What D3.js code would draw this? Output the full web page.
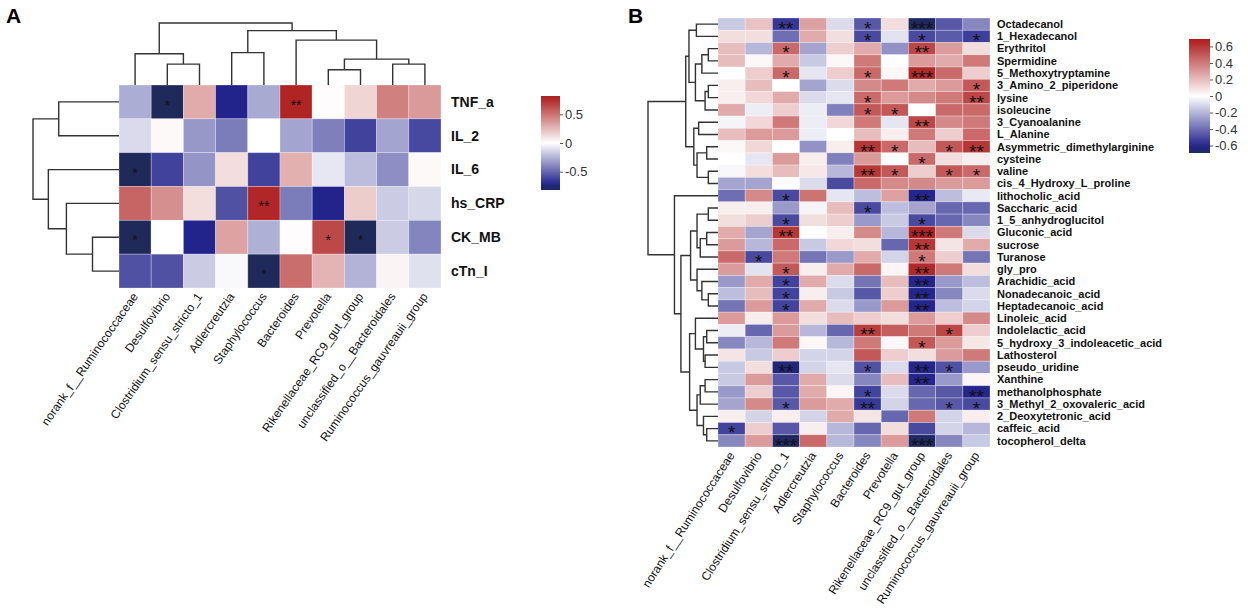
<!DOCTYPE html>
<html>
<head>
<meta charset="utf-8">
<script src="https://cdn.jsdelivr.net/npm/d3@7"></script>
<style>
  body { margin: 0; background: #fff; }
  text { font-family: "Liberation Sans", Arial, sans-serif; }
</style>
</head>
<body>
<svg id="chart" width="1248" height="612"></svg>
<script>
// ---- data ----
const genera = ["norank_f__Ruminococcaceae", "Desulfovibrio", "Clostridium_sensu_stricto_1", "Adlercreutzia",
  "Staphylococcus", "Bacteroides", "Prevotella", "Rikenellaceae_RC9_gut_group",
  "unclassified_o__Bacteroidales", "Ruminococcus_gauvreauii_group"];

const markersA = ["TNF_a", "IL_2", "IL_6", "hs_CRP", "CK_MB", "cTn_I"];
const valuesA = [
  [-0.27, -0.82, 0.30, -0.72, -0.28, 0.78, 0.01, 0.15, 0.45, 0.36],
  [-0.12, 0.02, -0.34, -0.43, 0.00, -0.30, -0.42, -0.62, -0.30, -0.60],
  [-0.82, -0.62, -0.35, 0.12, -0.62, 0.28, -0.08, -0.22, -0.37, 0.02],
  [0.55, 0.40, 0.12, -0.57, 0.77, -0.43, -0.72, 0.18, -0.17, -0.13],
  [-0.82, 0.00, -0.72, 0.33, -0.26, 0.01, 0.65, -0.82, -0.17, -0.40],
  [-0.57, -0.57, -0.17, -0.02, -0.82, 0.52, 0.27, -0.25, 0.04, -0.10]
];
// number of significance stars per cell
const starsA = ["0100020000", "0000000000", "1000000000", "0000200000", "1000001100", "0000100000"];

const metabolites = ["Octadecanol", "1_Hexadecanol", "Erythritol", "Spermidine", "5_Methoxytryptamine",
  "3_Amino_2_piperidone", "lysine", "isoleucine", "3_Cyanoalanine", "L_Alanine",
  "Asymmetric_dimethylarginine", "cysteine", "valine", "cis_4_Hydroxy_L_proline", "lithocholic_acid",
  "Saccharic_acid", "1_5_anhydroglucitol", "Gluconic_acid", "sucrose", "Turanose", "gly_pro",
  "Arachidic_acid", "Nonadecanoic_acid", "Heptadecanoic_acid", "Linoleic_acid", "Indolelactic_acid",
  "5_hydroxy_3_indoleacetic_acid", "Lathosterol", "pseudo_uridine", "Xanthine", "methanolphosphate",
  "3_Methyl_2_oxovaleric_acid", "2_Deoxytetronic_acid", "caffeic_acid", "tocopherol_delta"];
const valuesB = [
  [-0.15, 0.18, -0.55, 0.28, -0.10, -0.46, 0.10, -0.68, -0.46, -0.33],
  [0.10, 0.10, -0.40, 0.25, 0.10, -0.50, -0.08, -0.50, -0.45, -0.53],
  [0.20, -0.20, 0.45, -0.25, 0.15, 0.25, -0.30, 0.55, 0.30, 0.10],
  [0.20, 0.02, 0.25, -0.15, 0.02, 0.40, 0.00, 0.30, 0.25, 0.40],
  [0.00, 0.15, 0.45, -0.07, 0.15, 0.45, 0.02, 0.64, 0.45, 0.15],
  [0.05, 0.20, 0.00, -0.25, -0.10, 0.35, 0.40, 0.25, 0.30, 0.50],
  [0.05, 0.12, 0.25, -0.10, -0.07, 0.45, 0.30, 0.35, 0.40, 0.55],
  [0.25, -0.05, 0.15, -0.05, -0.35, 0.50, 0.50, 0.00, 0.45, 0.45],
  [-0.03, 0.12, 0.40, -0.05, 0.12, 0.40, -0.07, 0.55, 0.35, 0.40],
  [0.20, 0.30, 0.30, -0.05, 0.00, 0.20, 0.05, 0.40, 0.15, 0.45],
  [0.02, 0.12, 0.00, -0.30, 0.05, 0.60, 0.45, 0.20, 0.50, 0.60],
  [0.00, -0.07, 0.30, 0.05, -0.35, 0.30, 0.00, 0.45, 0.10, 0.05],
  [-0.02, 0.10, 0.20, 0.07, -0.20, 0.60, 0.50, 0.15, 0.50, 0.45],
  [-0.25, -0.25, 0.00, -0.10, -0.50, 0.45, 0.35, 0.35, 0.30, 0.30],
  [-0.40, 0.35, -0.50, 0.42, -0.07, -0.18, 0.28, -0.60, -0.18, -0.06],
  [0.05, 0.05, -0.28, -0.03, 0.20, -0.50, -0.18, -0.25, -0.42, -0.42],
  [0.10, 0.15, -0.50, 0.10, 0.15, -0.28, -0.15, -0.50, -0.42, -0.33],
  [0.25, -0.25, 0.60, 0.00, 0.05, 0.35, -0.20, 0.66, 0.40, -0.10],
  [0.30, -0.20, 0.45, -0.15, 0.12, 0.10, -0.42, 0.60, 0.08, 0.25],
  [0.45, -0.50, 0.40, -0.38, -0.28, 0.25, -0.12, 0.40, 0.15, -0.38],
  [0.30, -0.08, 0.50, 0.05, 0.25, 0.45, 0.03, 0.64, 0.40, 0.10],
  [-0.28, 0.25, -0.52, 0.25, -0.10, -0.38, 0.20, -0.60, -0.28, -0.18],
  [-0.18, 0.20, -0.52, 0.05, -0.15, -0.46, 0.15, -0.60, -0.33, -0.10],
  [-0.38, 0.30, -0.52, 0.25, -0.10, -0.28, 0.30, -0.60, -0.18, -0.12],
  [0.30, 0.05, 0.30, 0.10, 0.20, 0.15, 0.10, 0.30, 0.15, 0.35],
  [-0.05, -0.42, 0.30, -0.20, -0.42, 0.58, 0.48, 0.40, 0.55, 0.15],
  [-0.33, -0.20, 0.40, 0.02, -0.20, 0.40, 0.02, 0.50, 0.30, 0.07],
  [0.08, -0.15, 0.15, -0.12, -0.12, 0.50, 0.15, 0.10, 0.30, 0.40],
  [-0.15, 0.10, -0.64, -0.12, -0.07, -0.48, -0.10, -0.60, -0.48, -0.28],
  [-0.15, 0.30, -0.46, 0.25, -0.10, -0.33, 0.20, -0.60, -0.28, 0.03],
  [-0.28, 0.15, -0.46, 0.25, 0.03, -0.52, -0.10, -0.42, -0.46, -0.60],
  [-0.25, 0.35, -0.46, 0.30, 0.25, -0.55, -0.12, -0.42, -0.46, -0.50],
  [0.05, -0.12, 0.05, -0.12, 0.25, 0.08, -0.42, 0.40, -0.12, 0.05],
  [-0.52, 0.15, -0.46, 0.05, -0.20, -0.42, 0.10, -0.50, -0.12, -0.20],
  [-0.33, 0.30, -0.68, 0.45, -0.20, -0.33, 0.30, -0.68, -0.33, -0.15]
];
const starsB = ["0020010300", "0000010101", "0010000200", "0000000000", "0010010300",
  "0000000001", "0000010002", "0000011000", "0000000200", "0000000000",
  "0000021012", "0000000100", "0000021011", "0000000000", "0010000200",
  "0000010000", "0010000100", "0020000300", "0000000200", "0100000100",
  "0010000200", "0010000200", "0010000200", "0010000200", "0000000000",
  "0000020010", "0000000100", "0000000000", "0020010210", "0000000200",
  "0000010002", "0010020011", "0000000000", "1000000000", "0030000300"];

// dendrograms: [height, left, right], leaves = row/column index
const colTreeA = [163, [82, 0, [55, 1, 2]], [143, [85, 3, 4], [118, 5, [68, [40, 6, 7], [55, 8, 9]]]]];
const rowTreeA = [224, [157, 0, 1], [184, 2, [137, 3, [69, 4, 5]]]];
const rowTreeB = [217,
  [100,
    [90, [67, 0, 1], [70, [50, [30, 2, 3], 4], [40, [30, 5, 6], 7]]],
    [75, [60, 8, 9], [65, [35, 10, 11], [30, 12, 13]]]],
  [135, 14,
    [115,
      [85, [65, [30, 15, 16], [55, [35, 17, 18], 19]], [65, 20, [50, 21, [30, 22, 23]]]],
      [88, [70, 24, [45, [35, 25, 26], [40, 27, 28]]], [65, [55, [40, 29, 30], 31], [45, 32, [35, 33, 34]]]]]]];

const ticksA = [-0.5, 0, 0.5];
const ticksB = [-0.6, -0.4, -0.2, 0, 0.2, 0.4, 0.6];

// ---- drawing ----
const svg = d3.select("#chart");

function makeColor(m) {
  return d3.scaleLinear()
    .domain([-m, -0.88 * m, 0, 0.95 * m, m])
    .range(["#1f2a5a", "#22238b", "#ffffff", "#b02424", "#ad1f1f"])
    .clamp(true);
}

function dendro(g, tree, pos, hScale, orient) {
  function rec(node) {
    if (typeof node === "number") return [pos(node) + pos.bandwidth() / 2, 0];
    const a = rec(node[1]), b = rec(node[2]);
    const hp = hScale(node[0]);
    let d;
    if (orient === "top") {
      d = `M${a[0]},${hScale(a[1])}V${hp}H${b[0]}V${hScale(b[1])}`;
    } else {
      d = `M${hScale(a[1])},${a[0]}H${hp}V${b[0]}H${hScale(b[1])}`;
    }
    g.append("path").attr("d", d)
      .attr("fill", "none").attr("stroke", "#333").attr("stroke-width", 1.4);
    return [(a[0] + b[0]) / 2, node[0]];
  }
  rec(tree);
}

function heatmap(cfg) {
  const g = svg.append("g");
  const x = d3.scaleBand().domain(d3.range(cfg.cols.length)).range([cfg.x0, cfg.x1]);
  const y = d3.scaleBand().domain(d3.range(cfg.rows.length)).range([cfg.y0, cfg.y1]);
  const color = makeColor(cfg.max);

  const cells = [];
  cfg.values.forEach((row, i) => row.forEach((v, j) => cells.push({
    i: i, j: j, v: v, s: "*".repeat(+cfg.stars[i][j])
  })));

  g.selectAll("rect.cell").data(cells).enter().append("rect")
    .attr("class", "cell")
    .attr("x", d => x(d.j)).attr("y", d => y(d.i))
    .attr("width", x.bandwidth()).attr("height", y.bandwidth())
    .attr("fill", d => color(d.v))
    .attr("stroke", "#fff").attr("stroke-opacity", 0.35).attr("stroke-width", 0.8);

  // asterisks sit high in the em box, so push the baseline down
  g.selectAll("text.star").data(cells.filter(d => d.s)).enter().append("text")
    .attr("x", d => x(d.j) + x.bandwidth() / 2)
    .attr("y", d => y(d.i) + y.bandwidth() / 2 + cfg.starSize * 0.57)
    .attr("text-anchor", "middle")
    .attr("font-size", cfg.starSize)
    .attr("fill", "#111")
    .text(d => d.s);

  g.selectAll("text.rowlab").data(cfg.rows).enter().append("text")
    .attr("x", cfg.x1 + cfg.rowGap)
    .attr("y", (d, i) => y(i) + y.bandwidth() / 2)
    .attr("dy", "0.35em")
    .attr("font-size", cfg.rowFont)
    .attr("font-weight", "bold")
    .attr("fill", "#111")
    .text(d => d);

  g.selectAll("text.collab").data(cfg.cols).enter().append("text")
    .attr("transform", (d, i) => `translate(${x(i) + x.bandwidth() / 2},${cfg.y1 + 6}) rotate(${-cfg.angle})`)
    .attr("text-anchor", "end")
    .attr("dy", "0.35em")
    .attr("font-size", cfg.colFont)
    .attr("fill", "#111")
    .text(d => d);

  // row dendrogram
  const hx = d3.scaleLinear().domain([0, cfg.rowTree[0]]).range([cfg.x0, cfg.rowRoot]);
  dendro(g, cfg.rowTree, y, hx, "left");
  if (cfg.colTree) {
    const hy = d3.scaleLinear().domain([0, cfg.colTree[0]]).range([cfg.y0, cfg.colRoot]);
    dendro(g, cfg.colTree, x, hy, "top");
  }

  // legend
  const lg = cfg.legend;
  const gid = "grad" + cfg.id;
  const grad = svg.append("defs").append("linearGradient").attr("id", gid)
    .attr("x1", 0).attr("y1", 1).attr("x2", 0).attr("y2", 0);
  d3.range(0, 1.0001, 0.05).forEach(t => {
    grad.append("stop").attr("offset", t).attr("stop-color", color(-cfg.max + 2 * cfg.max * t));
  });
  g.append("rect").attr("x", lg.x).attr("y", lg.y0)
    .attr("width", lg.w).attr("height", lg.y1 - lg.y0)
    .attr("fill", `url(#${gid})`);
  const ly = d3.scaleLinear().domain([-cfg.max, cfg.max]).range([lg.y1, lg.y0]);
  const ax = g.append("g").attr("transform", `translate(${lg.x + lg.w},0)`)
    .call(d3.axisRight(ly).tickValues(cfg.ticks).tickSize(3).tickPadding(2).tickFormat(d => String(d)));
  ax.select(".domain").remove();
  ax.selectAll("line").attr("stroke", "#555");
  ax.selectAll("text").attr("font-size", 13).attr("fill", "#333")
    .attr("font-family", "'Liberation Sans', Arial, sans-serif");
}

heatmap({
  id: "A", rows: markersA, cols: genera, values: valuesA, stars: starsA, max: 0.82,
  x0: 119, x1: 441, y0: 85, y1: 288, starSize: 14, rowFont: 14, rowGap: 10,
  colFont: 12, angle: 55, rowTree: rowTreeA, rowRoot: 33, colTree: colTreeA, colRoot: 23,
  ticks: ticksA, legend: { x: 541, w: 19, y0: 96, y1: 190 }
});

heatmap({
  id: "B", rows: metabolites, cols: genera, values: valuesB, stars: starsB, max: 0.69,
  x0: 718, x1: 990, y0: 18, y1: 447, starSize: 19, rowFont: 11, rowGap: 7,
  colFont: 12, angle: 57, rowTree: rowTreeB, rowRoot: 648,
  ticks: ticksB, legend: { x: 1189, w: 21, y0: 39, y1: 153 }
});

svg.append("text").attr("x", 6).attr("y", 23).attr("font-size", 21).attr("font-weight", "bold").text("A");
svg.append("text").attr("x", 628).attr("y", 23).attr("font-size", 21).attr("font-weight", "bold").text("B");
</script>
</body>
</html>
